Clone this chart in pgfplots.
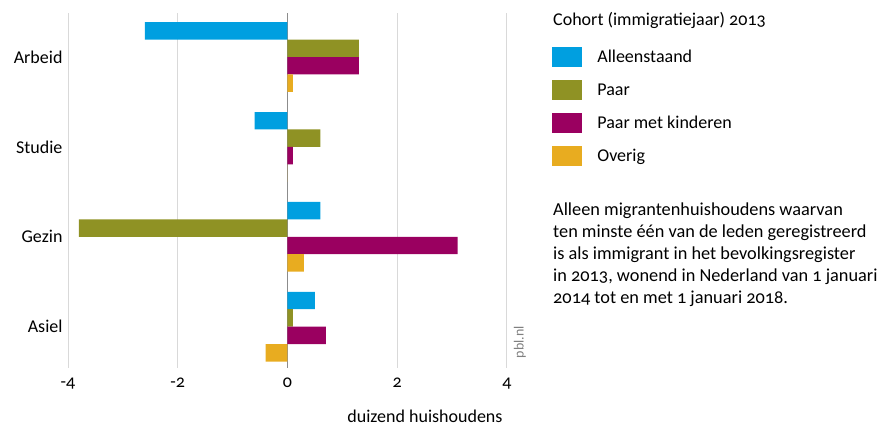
\documentclass[border=0pt]{standalone}
\usepackage{pgfplots}
\pgfplotsset{compat=1.18}
\usepackage{fontspec}
\setmainfont{Carlito}[Numbers=OldStyle]
\definecolor{cBlue}{RGB}{0,159,224}
\definecolor{cOlive}{RGB}{143,146,36}
\definecolor{cPurple}{RGB}{154,0,96}
\definecolor{cOrange}{RGB}{232,172,32}
\begin{document}
\begin{tikzpicture}[x=1pt,y=1pt]
\path (0,0) rectangle (880,426);
\begin{axis}[
  at={(68pt,58pt)}, anchor=south west,
  scale only axis, width=439pt, height=355pt,
  xmin=-4, xmax=4, ymin=-0.49, ymax=3.46, y dir=reverse,
  axis line style={draw=none},
  major tick length=0pt,
  xtick={-4,-2,0,2,4},
  ytick={0,1,2,3},
  yticklabels={Arbeid,Studie,Gezin,Asiel},
  xmajorgrids,
  grid style={black!15, line width=1pt},
  extra x ticks={0}, extra x tick labels={},
  extra x tick style={grid style={black!45, line width=1pt}},
  xbar=0pt, bar width=0.194,
  /pgf/number format/assume math mode=true,
  tick label style={font=\fontsize{18}{20}\selectfont},
  yticklabel style={xshift=-2pt},
  xticklabel style={yshift=-6pt},
  legend style={at={(1.096,0.91)}, anchor=north west, draw=none, fill=none,
    font=\fontsize{18}{20}\selectfont, row sep=13pt,
    nodes={inner sep=0pt},
    /tikz/every odd column/.append style={column sep=15pt}},
  legend cell align=left,
  legend image code/.code={\path[#1] (0pt,-10pt) rectangle (30pt,10pt);},
]
\addplot[fill=cBlue, draw=none] coordinates {(-2.6,0) (-0.6,1) (0.6,2) (0.5,3)};
\addplot[fill=cOlive, draw=none] coordinates {(1.3,0) (0.6,1) (-3.8,2) (0.1,3)};
\addplot[fill=cPurple, draw=none] coordinates {(1.3,0) (0.1,1) (3.1,2) (0.7,3)};
\addplot[fill=cOrange, draw=none] coordinates {(0.1,0) (0,1) (0.3,2) (-0.4,3)};
\legend{Alleenstaand, Paar, Paar met kinderen, Overig}
\end{axis}
\node[anchor=west, inner sep=0pt, font=\fontsize{18}{20}\selectfont] at (553,406) {Cohort (immigratiejaar) 2013};
\node[anchor=north west, align=left, inner sep=0pt, font=\fontsize{18.3}{22}\selectfont] at (553,223)
  {Alleen migrantenhuishoudens waarvan\\ten minste één van de leden geregistreerd\\is als immigrant in het bevolkingsregister\\in 2013, wonend in Nederland van 1 januari\\2014 tot en met 1 januari 2018.};
\node[anchor=base, font=\fontsize{18}{20}\selectfont] at (425,3) {duizend huishoudens};
\node[rotate=90, text=black!50, font=\fontsize{14}{16}\selectfont] at (520,84) {pbl.nl};
\end{tikzpicture}
\end{document}
